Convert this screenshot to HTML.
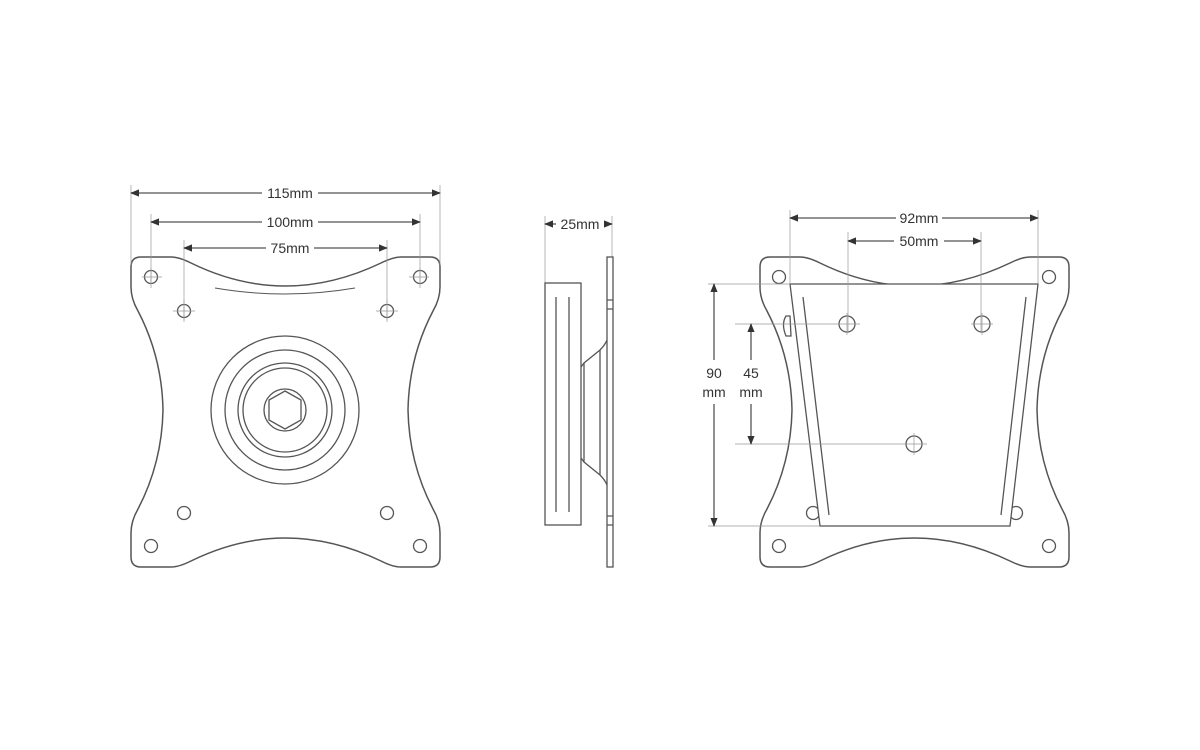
<!DOCTYPE html>
<html><head><meta charset="utf-8"><style>
html,body{margin:0;padding:0;background:#fff;}
svg{display:block;}
text{font-family:"Liberation Sans",sans-serif;font-size:14px;fill:#333;}
</style></head><body>
<svg width="1200" height="750" viewBox="0 0 1200 750" xmlns="http://www.w3.org/2000/svg">
<defs>
<marker id="a" viewBox="0 0 10 10" refX="9" refY="5" markerWidth="7" markerHeight="7" orient="auto-start-reverse"><path d="M0,1 L10,5 L0,9 Z" fill="#333"/></marker>
<g id="plate">
<path d="M10,0 L40,0 Q48,0 60,6 Q154,52 250,6 Q262,0 270,0 L299,0 Q309,0 309,10 L309,30 Q309,42 302,54 Q278,100 277,153 Q278,206 302,252 Q309,264 309,276 L309,300 Q309,310 299,310 L270,310 Q262,310 250,304 Q154,258 60,304 Q48,310 40,310 L10,310 Q0,310 0,300 L0,276 Q0,264 7,252 Q31,206 32,153 Q31,100 7,54 Q0,42 0,30 L0,10 Q0,0 10,0 Z" fill="none" stroke="#555" stroke-width="1.5"/>
</g>
</defs>
<g stroke="#555" stroke-width="1.3" fill="none">
<!-- LEFT VIEW -->
<use href="#plate" x="131" y="257"/>
<path d="M215,288 Q285,300 355,288" stroke-width="1"/>
<circle cx="151" cy="277" r="6.5"/><circle cx="420" cy="277" r="6.5"/>
<circle cx="151" cy="546" r="6.5"/><circle cx="420" cy="546" r="6.5"/>
<circle cx="184" cy="311" r="6.5"/><circle cx="387" cy="311" r="6.5"/>
<circle cx="184" cy="513" r="6.5"/><circle cx="387" cy="513" r="6.5"/>
<g stroke-width="0.7" stroke="#999">
<path d="M142,277h20M409,277h20M151,268v20M420,268v20M173,311h22M376,311h22M184,300v22M387,300v22"/>
<path d="M131,185v80M440,185v80M151,214v70M420,214v70M184,240v80M387,240v80"/>
</g>
<circle cx="285" cy="410" r="74"/>
<circle cx="285" cy="410" r="60"/>
<circle cx="285" cy="410" r="47"/>
<circle cx="285" cy="410" r="42"/>
<circle cx="285" cy="410" r="21"/>
<polygon points="285,391 301,400 301,420 285,429 269,420 269,400"/>
<!-- dims -->
<line x1="131" y1="193" x2="262" y2="193" marker-start="url(#a)"/><line x1="318" y1="193" x2="440" y2="193" marker-end="url(#a)"/>
<line x1="151" y1="222" x2="262" y2="222" marker-start="url(#a)"/><line x1="318" y1="222" x2="420" y2="222" marker-end="url(#a)"/>
<line x1="184" y1="248" x2="266" y2="248" marker-start="url(#a)"/><line x1="314" y1="248" x2="387" y2="248" marker-end="url(#a)"/>
<!-- SIDE VIEW -->
<line x1="545" y1="216" x2="545" y2="283" stroke-width="0.7" stroke="#999"/>
<line x1="612" y1="216" x2="612" y2="257" stroke-width="0.7" stroke="#999"/>
<line x1="545" y1="224" x2="556" y2="224" marker-start="url(#a)"/><line x1="604" y1="224" x2="612" y2="224" marker-end="url(#a)"/>
<rect x="545" y="283" width="36" height="242"/>
<path d="M556,297v215M569,297v215"/>
<rect x="607" y="257" width="6" height="310"/>
<path d="M607,300h6M607,309h6M607,516h6M607,525h6"/>
<path d="M581,367 L584,363 L600,350 Q605,345 607,340"/>
<path d="M581,458 L584,462 L600,475 Q605,480 607,485"/>
<path d="M584,363v99M600,350v125"/>
<!-- RIGHT VIEW -->
<use href="#plate" x="760" y="257"/>
<circle cx="779" cy="277" r="6.5"/><circle cx="1049" cy="277" r="6.5"/>
<circle cx="779" cy="546" r="6.5"/><circle cx="1049" cy="546" r="6.5"/>
<circle cx="813" cy="513" r="6.5"/><circle cx="1016" cy="513" r="6.5"/>
<polygon points="790,284 1038,284 1010,526 820,526" fill="#fff"/>
<path d="M803,297 L829,515M1026,297 L1001,515"/>
<path d="M786,316 q-5,8 0,20 l5,0 l-1,-20 z" fill="#fff"/>
<circle cx="847" cy="324" r="8"/><circle cx="982" cy="324" r="8"/><circle cx="914" cy="444" r="8"/>
<g stroke-width="0.7" stroke="#999">
<path d="M790,210v74M1038,210v74M848,232v100M981,232v100"/>
<path d="M708,284h82M708,526h112M735,324h125M735,444h192M914,433v22M847,313v22M971,324h22M982,313v22"/>
</g>
<line x1="790" y1="218" x2="896" y2="218" marker-start="url(#a)"/><line x1="942" y1="218" x2="1038" y2="218" marker-end="url(#a)"/>
<line x1="848" y1="241" x2="894" y2="241" marker-start="url(#a)"/><line x1="944" y1="241" x2="981" y2="241" marker-end="url(#a)"/>
<line x1="714" y1="284" x2="714" y2="360" marker-start="url(#a)"/><line x1="714" y1="404" x2="714" y2="526" marker-end="url(#a)"/>
<line x1="751" y1="324" x2="751" y2="360" marker-start="url(#a)"/><line x1="751" y1="404" x2="751" y2="444" marker-end="url(#a)"/>
</g>
<g stroke="none">
<text x="290" y="198" text-anchor="middle">115mm</text>
<text x="290" y="227" text-anchor="middle">100mm</text>
<text x="290" y="253" text-anchor="middle">75mm</text>
<text x="580" y="229" text-anchor="middle">25mm</text>
<text x="919" y="223" text-anchor="middle">92mm</text>
<text x="919" y="246" text-anchor="middle">50mm</text>
<text x="714" y="378" text-anchor="middle">90</text>
<text x="714" y="397" text-anchor="middle">mm</text>
<text x="751" y="378" text-anchor="middle">45</text>
<text x="751" y="397" text-anchor="middle">mm</text>
</g>
</svg>
</body></html>
